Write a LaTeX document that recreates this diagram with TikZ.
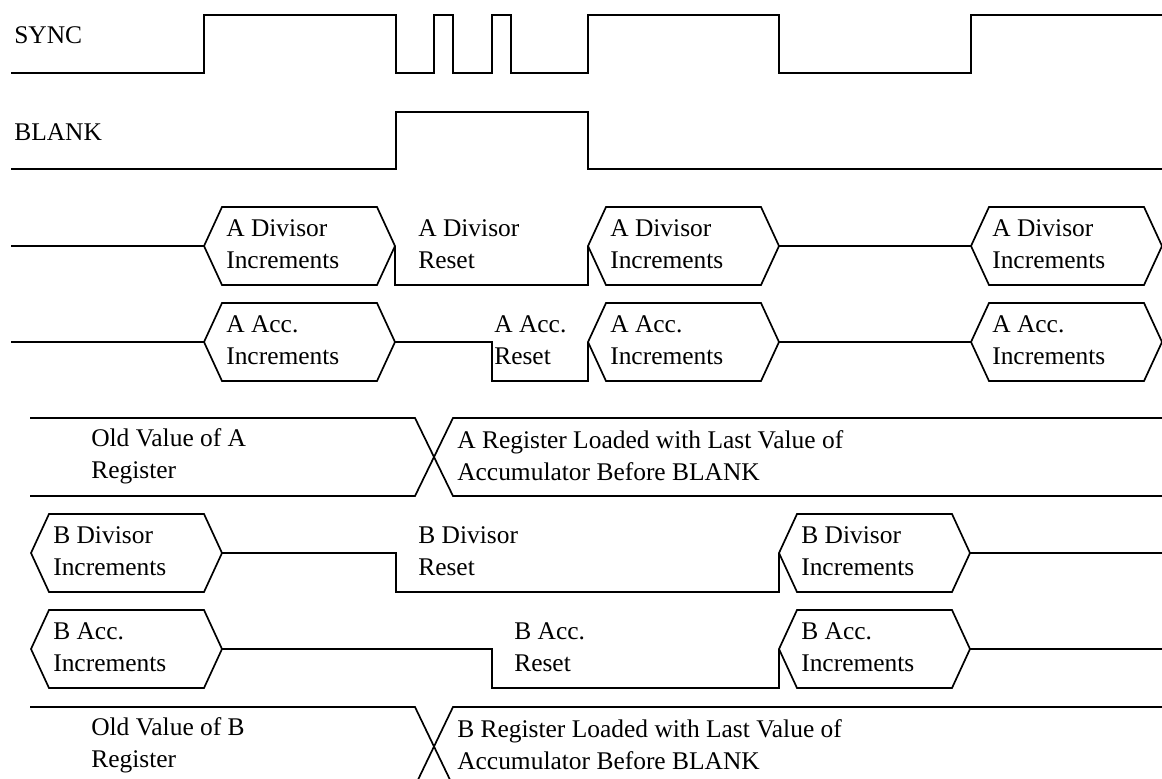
\documentclass[tikz,border=0pt]{standalone}
\usepackage{fontspec}
\setmainfont{Liberation Serif}
\tikzset{
  sig/.style={line width=1.2pt, line join=miter},
  lbl/.style={anchor=west, inner sep=0pt, align=left, font=\fontsize{18.1}{22.8}\selectfont}
}
\begin{document}
\begin{tikzpicture}[x=0.025cm,y=-0.025cm]
        \useasboundingbox (0,0) rectangle (1162,778);
        % SYNC and BLANK
        \node[lbl] (sync) at (14,35) {SYNC};
        \node[lbl] (blank) at (14,132) {BLANK};
        \draw[sig] (11,73) -- (204,73) -- (204,15) -- (396,15) -- (396,73) -- (434,73) -- (434,15) -- (453,15) -- (453,73)
            -- (492,73) -- (492,15) -- (511,15) -- (511,73) -- (588,73) -- (588,15) -- (779,15) -- (779,73) -- (971,73) -- (971,15) -- (1162,15);
        \draw[sig] (11,169) -- (396,169) -- (396,112) -- (588,112) -- (588,169) -- (1162,169);
        % counting periods
        \foreach \a/\m in {204/246,588/246,971/246,204/342,588/342,971/342,31/553,779/553,31/649,779/649}
            \draw[sig] (\a,\m) -- ++(18,-39) -- ++(155,0) -- ++(18,39) -- ++(-18,39) -- ++(-155,0) -- cycle;
        \draw[sig] (11,246) -- (204,246);
        \draw[sig] (395,246) -- (395,285) -- (588,285) -- (588,246);
        \draw[sig] (779,246) -- (971,246);
        \draw[sig] (11,342) -- (204,342);
        \draw[sig] (395,342) -- (492,342) -- (492,381) -- (588,381) -- (588,342);
        \draw[sig] (779,342) -- (971,342);
        \draw[sig] (222,553) -- (396,553) -- (396,592) -- (779,592) -- (779,553);
        \draw[sig] (970,553) -- (1162,553);
        \draw[sig] (222,649) -- (492,649) -- (492,688) -- (779,688) -- (779,649);
        \draw[sig] (970,649) -- (1162,649);
        % registers
        \draw[sig] (30,418) -- (415,418) -- (453,496) -- (1162,496);
        \draw[sig] (30,496) -- (415,496) -- (453,418) -- (1162,418);
        \draw[sig] (30,707) -- (415,707) -- (453,786) -- (1162,786);
        \draw[sig] (30,786) -- (415,786) -- (453,707) -- (1162,707);
        % labels
        \node[lbl] (adi1) at (226,244) {A Divisor\\Increments};
        \node[lbl] (adr) at (418,244) {A Divisor\\Reset};
        \node[lbl] (adi2) at (610,244) {A Divisor\\Increments};
        \node[lbl] (adi3) at (992,244) {A Divisor\\Increments};
        \node[lbl] (aai1) at (226,340) {A Acc.\\Increments};
        \node[lbl] (aar) at (494,340) {A Acc.\\Reset};
        \node[lbl] (aai2) at (610,340) {A Acc.\\Increments};
        \node[lbl] (aai3) at (992,340) {A Acc.\\Increments};
        \node[lbl] (aold) at (91,456) {Old Value of A\\Register};
        \node[lbl] (anew) at (457,456) {A Register Loaded with Last Value of\\Accumulator Before BLANK};
        \node[lbl] (bdi1) at (53,551) {B Divisor\\Increments};
        \node[lbl] (bdr) at (418,551) {B Divisor\\Reset};
        \node[lbl] (bdi2) at (801,551) {B Divisor\\Increments};
        \node[lbl] (bai1) at (53,647) {B Acc.\\Increments};
        \node[lbl] (bar) at (514,647) {B Acc.\\Reset};
        \node[lbl] (bai2) at (801,647) {B Acc.\\Increments};
        \node[lbl] (bold) at (91,745) {Old Value of B\\Register};
        \node[lbl] (bnew) at (457,745) {B Register Loaded with Last Value of\\Accumulator Before BLANK};
\end{tikzpicture}
\end{document}
